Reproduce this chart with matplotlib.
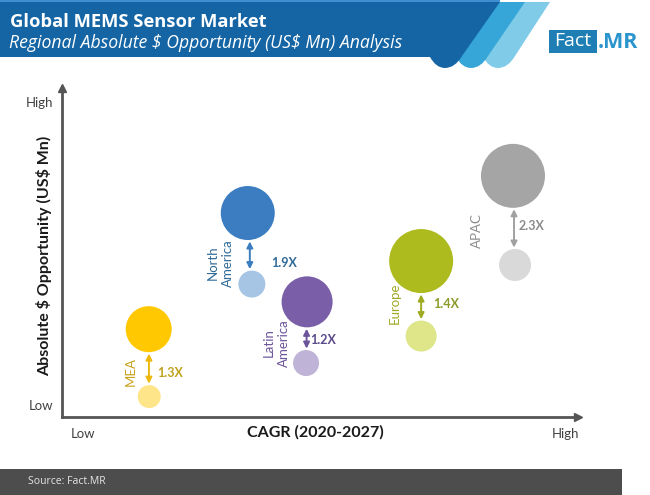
import matplotlib
matplotlib.use("Agg")
import matplotlib.pyplot as plt
from matplotlib.patches import PathPatch, Rectangle
from matplotlib.path import Path

# ---- data (axis scale 0-100) ----
regions = ["MEA", "North\nAmerica", "Latin\nAmerica", "Europe", "APAC"]
cagr_now = [16.8, 36.0, 47.5, 69.6, 87.4]
cagr_base = [16.9, 36.8, 47.3, 69.6, 87.8]
opp_future = [26.7, 62.0, 35.0, 47.4, 73.3]
opp_base = [6.2, 40.4, 16.4, 24.6, 46.2]
size_future = [46, 54, 51, 64, 64]
size_base = [23, 27, 26, 31, 32]
multiples = ["1.3X", "1.9X", "1.2X", "1.4X", "2.3X"]
tick_low_high = ["Low", "High"]

colors_future = ["#FFC800", "#3B7DC0", "#7A5FA8", "#AEBB1E", "#A5A5A5"]
colors_base = ["#FFE58A", "#A6C5E4", "#BFB4D8", "#DFE68A", "#D9D9D9"]
colors_arrow = ["#EDB80E", "#3B7DC0", "#6B5499", "#9DAA22", "#A0A0A0"]
colors_label = ["#C7A21A", "#2E6A99", "#6B5499", "#9DAA22", "#8C8C8C"]
colors_mult = ["#BFA21E", "#2E6A99", "#5B4A8A", "#8C9A2A", "#8C8C8C"]

# pixel positions of the annotations (x, y in image pixels)
label_xy = [(131, 371), (220.5, 263), (276.5, 343), (395, 303), (477, 231)]
mult_xy = [(170, 373), (284, 263), (323, 340), (446, 304), (532, 226)]

W, H = 650, 495
fig = plt.figure(figsize=(W / 100, H / 100), dpi=100)
plt.rcParams["font.family"] = ["Lato", "DejaVu Sans"]

# overlay in pixel coordinates, for banner/footer/annotations
deco = fig.add_axes([0, 0, 1, 1], zorder=3)
deco.set_xlim(0, W)
deco.set_ylim(H, 0)
deco.axis("off")

# chart axes
AX_L, AX_R, AX_T, AX_B = 62, 578, 88, 417
ax = fig.add_axes([AX_L / W, 1 - AX_B / H, (AX_R - AX_L) / W, (AX_B - AX_T) / H], zorder=2)
ax.patch.set_alpha(0)
ax.set_xlim(0, 100)
ax.set_ylim(0, 100)
for s in ("top", "right"):
    ax.spines[s].set_visible(False)
for s in ("left", "bottom"):
    ax.spines[s].set_color("#555555")
    ax.spines[s].set_linewidth(2)
ax.plot(1, 0, ">", transform=ax.transAxes, clip_on=False, color="#555555", ms=6)
ax.plot(0, 1, "^", transform=ax.transAxes, clip_on=False, color="#555555", ms=6)

ax.set_xticks([4, 97.5], tick_low_high)
ax.set_yticks([3.6, 95.7], tick_low_high)
ax.tick_params(length=0, labelsize=9.5, labelcolor="#404040")
ax.tick_params(axis="x", pad=8)
ax.tick_params(axis="y", pad=6)
ax.set_xlabel("CAGR (2020-2027)", fontsize=11.5, fontweight="bold", color="#1a1a1a")
ax.xaxis.set_label_coords(0.491, -0.025, transform=ax.transAxes)
ax.xaxis.label.set_va("top")
ax.set_ylabel("Absolute \\$ Opportunity (US\\$ Mn)", fontsize=11.5, fontweight="bold", color="#1a1a1a")
ax.yaxis.set_label_coords(-0.02, 0.49)

to_pt = 0.72
ax.scatter(cagr_now, opp_future, s=[(d * to_pt) ** 2 for d in size_future],
           c=colors_future, linewidths=0, zorder=3)
ax.scatter(cagr_base, opp_base, s=[(d * to_pt) ** 2 for d in size_base],
           c=colors_base, linewidths=0, zorder=3)

for i in range(len(regions)):
    xm = (cagr_now[i] + cagr_base[i]) / 2
    ax.annotate("", xy=(xm, opp_future[i]), xytext=(xm, opp_base[i]),
                arrowprops=dict(arrowstyle="<|-|>", color=colors_arrow[i], lw=1.4,
                                mutation_scale=9,
                                shrinkA=size_base[i] * to_pt / 2 + 1,
                                shrinkB=size_future[i] * to_pt / 2 + 1),
                zorder=2)
    lx, ly = label_xy[i]
    deco.text(lx, ly, regions[i], rotation=90, ha="center", va="center", fontsize=9.5,
              color=colors_label[i], linespacing=1.25, multialignment="center")
    mx, my = mult_xy[i]
    deco.text(mx, my, multiples[i], ha="center", va="center", fontsize=9,
              fontweight="bold", color=colors_mult[i])


def swoosh(top_right, tip_x, color, z):
    """banner band with a rounded lower tip"""
    verts = [(0, 2), (top_right, 2), (tip_x + 17, 56),
             (tip_x + 10, 68), (tip_x, 68),
             (tip_x - 9, 68), (tip_x - 15, 57),
             (0, 57), (0, 2)]
    codes = [Path.MOVETO, Path.LINETO, Path.LINETO, Path.CURVE3, Path.CURVE3,
             Path.CURVE3, Path.CURVE3, Path.LINETO, Path.CLOSEPOLY]
    deco.add_patch(PathPatch(Path(verts, codes), fc=color, ec="none", zorder=z))


swoosh(550, 498, "#7FCBE8", 1)
swoosh(525, 471, "#36A6D8", 2)
swoosh(500, 445, "#1565A5", 3)
deco.add_patch(Rectangle((0, 0), 500, 1.5, fc="#3F8FD0", ec="none", zorder=4))

deco.text(10, 22, "Global MEMS Sensor Market", fontsize=13.2, fontweight="bold",
          color="white", family="Open Sans", va="center", ha="left", zorder=5)
deco.text(9, 43, "Regional Absolute \\$ Opportunity (US\\$ Mn) Analysis", fontsize=12.7,
          style="italic", color="white", family="Open Sans", va="center", ha="left", zorder=5)

# logo
deco.add_patch(Rectangle((549, 30), 48, 23, fc="#1F7FB5", ec="none", zorder=4))
deco.text(573, 41.5, "Fact", fontsize=14, color="white", family="Open Sans",
          ha="center", va="center", zorder=5)
deco.text(598, 42, ".MR", fontsize=15.5, fontweight="bold", color="#2A94CC",
          family="Open Sans", ha="left", va="center", zorder=5)

# footer
deco.add_patch(Rectangle((0, 469), 622, 26, fc="#4D4D4D", ec="none", zorder=4))
deco.text(28, 482, "Source: Fact.MR", fontsize=7.5, color="#E6E6E6", family="Open Sans",
          va="center", ha="left", zorder=5)

fig.savefig("out.png", dpi=100)
